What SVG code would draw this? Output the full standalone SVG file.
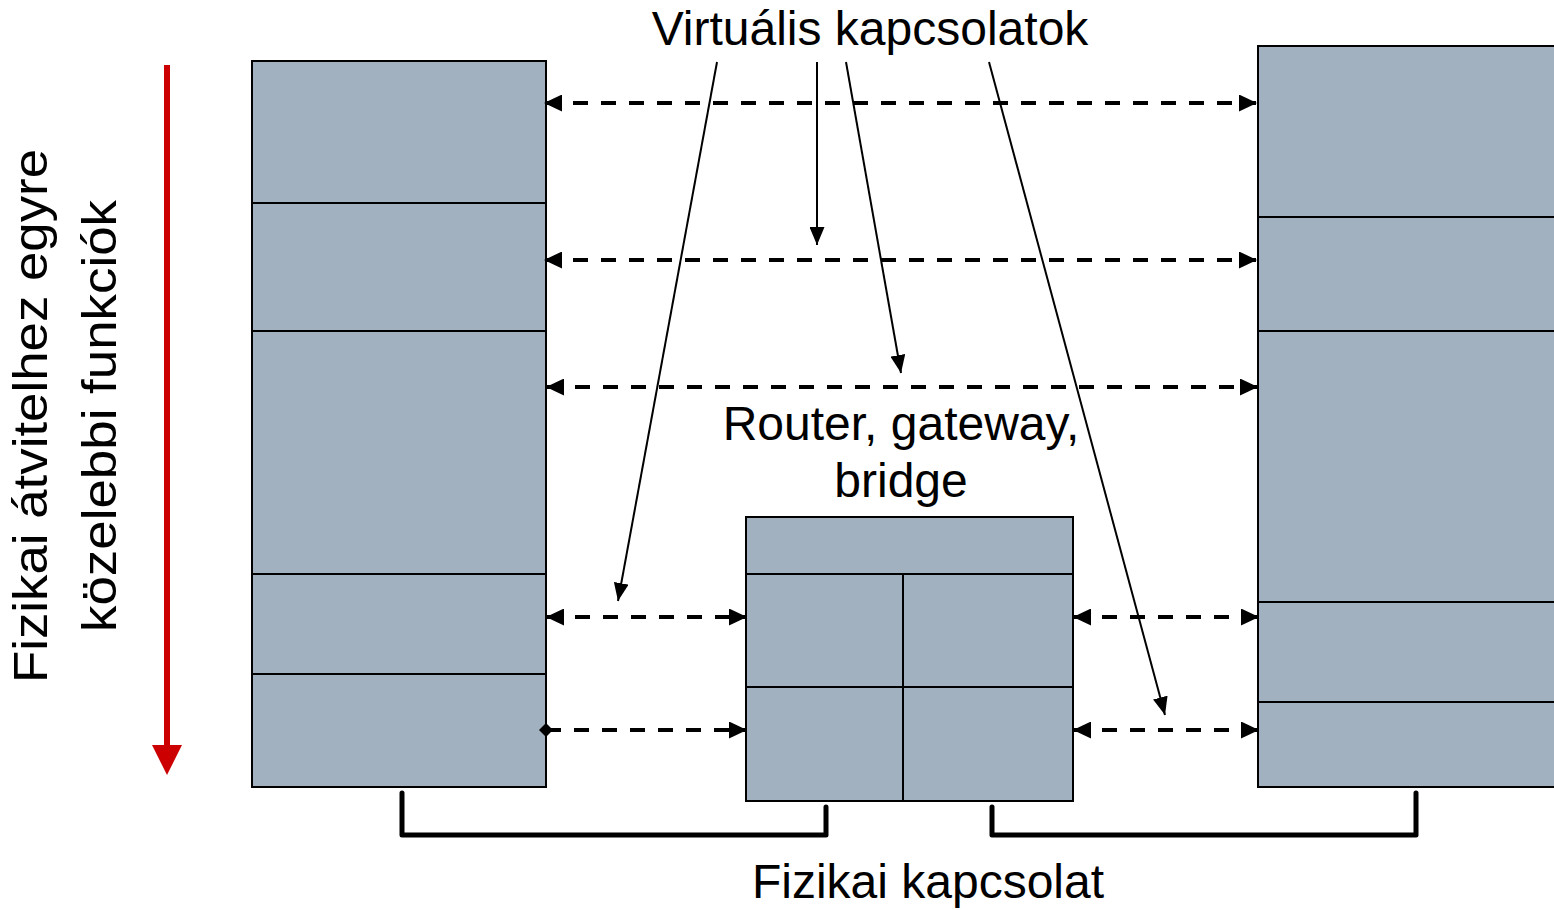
<svg xmlns="http://www.w3.org/2000/svg" width="1554" height="910" viewBox="0 0 1554 910">
  <style>
    .layer { fill: #A2B1C0; stroke: #000; stroke-width: 2; }
    .div { stroke: #000; stroke-width: 2; fill: none; }
    .virt { stroke: #000; stroke-width: 4; stroke-dasharray: 15 13; fill: none; }
    .ptr { stroke: #000; stroke-width: 2; fill: none; }
    .phys { stroke: #000; stroke-width: 5; fill: none; stroke-linejoin: round; stroke-linecap: round; }
    .lbl { font-family: "Liberation Sans", Arial, sans-serif; font-size: 48px; fill: #000; text-anchor: middle; }
  </style>
  <defs>
    <marker id="head" viewBox="0 0 18 17" refX="17" refY="8.5" markerWidth="18" markerHeight="17" markerUnits="userSpaceOnUse" orient="auto-start-reverse">
      <path d="M0,0 L18,8.5 L0,17 z" fill="#000"/>
    </marker>
    <marker id="thinHead" viewBox="0 0 18 15" refX="18" refY="7.5" markerWidth="18" markerHeight="15" markerUnits="userSpaceOnUse" orient="auto">
      <path d="M0,0 L18,7.5 L0,15 z" fill="#000"/>
    </marker>
    <marker id="dot" viewBox="0 0 14 14" refX="7" refY="7" markerWidth="14" markerHeight="14" markerUnits="userSpaceOnUse" orient="auto">
      <path d="M0,7 L7,0 L14,7 L7,14 z" fill="#000"/>
    </marker>
  </defs>

  <rect width="1554" height="910" fill="#fff"/>

  <!-- host A protocol stack -->
  <g id="stack-left">
    <rect class="layer" x="252" y="61" width="294" height="726"/>
    <line class="div" x1="252" y1="203" x2="546" y2="203"/>
    <line class="div" x1="252" y1="331" x2="546" y2="331"/>
    <line class="div" x1="252" y1="574" x2="546" y2="574"/>
    <line class="div" x1="252" y1="674" x2="546" y2="674"/>
  </g>

  <!-- host B protocol stack -->
  <g id="stack-right">
    <rect class="layer" x="1258" y="46" width="310" height="741"/>
    <line class="div" x1="1258" y1="217" x2="1568" y2="217"/>
    <line class="div" x1="1258" y1="331" x2="1568" y2="331"/>
    <line class="div" x1="1258" y1="602" x2="1568" y2="602"/>
    <line class="div" x1="1258" y1="702" x2="1568" y2="702"/>
  </g>

  <!-- intermediate device -->
  <g id="router">
    <rect class="layer" x="746" y="517" width="327" height="284"/>
    <line class="div" x1="746" y1="574" x2="1073" y2="574"/>
    <line class="div" x1="746" y1="687" x2="1073" y2="687"/>
    <line class="div" x1="903" y1="574" x2="903" y2="801"/>
    <text class="lbl" x="901" y="440">Router, gateway,</text>
    <text class="lbl" x="901" y="497">bridge</text>
  </g>

  <!-- direction indicator -->
  <g id="direction">
    <line x1="167" y1="65" x2="167" y2="747" stroke="#CC0000" stroke-width="6"/>
    <polygon points="152,745 182,745 167,775" fill="#CC0000"/>
    <text class="lbl" transform="translate(47,416) rotate(-90)" textLength="534" lengthAdjust="spacingAndGlyphs">Fizikai átvitelhez egyre</text>
    <text class="lbl" transform="translate(116,416) rotate(-90)" textLength="432" lengthAdjust="spacingAndGlyphs">közelebbi funkciók</text>
  </g>

  <g id="labels">
    <text class="lbl" x="870" y="45">Virtuális kapcsolatok</text>
    <text class="lbl" x="928" y="898">Fizikai kapcsolat</text>
  </g>

  <g id="connectors">
    <!-- peer-to-peer virtual links -->
    <line class="virt" x1="545" y1="103" x2="1256" y2="103" marker-start="url(#head)" marker-end="url(#head)"/>
    <line class="virt" x1="545" y1="260" x2="1256" y2="260" marker-start="url(#head)" marker-end="url(#head)"/>
    <line class="virt" x1="547" y1="387" x2="1257" y2="387" marker-start="url(#head)" marker-end="url(#head)"/>
    <line class="virt" x1="547" y1="617" x2="746" y2="617" marker-start="url(#head)" marker-end="url(#head)"/>
    <line class="virt" x1="1074" y1="617" x2="1258" y2="617" marker-start="url(#head)" marker-end="url(#head)"/>
    <line class="virt" x1="546" y1="730" x2="746" y2="730" marker-start="url(#dot)" marker-end="url(#head)"/>
    <line class="virt" x1="1074" y1="730" x2="1258" y2="730" marker-start="url(#head)" marker-end="url(#head)"/>

    <!-- label pointers -->
    <line class="ptr" x1="717" y1="62" x2="618" y2="601" marker-end="url(#thinHead)"/>
    <line class="ptr" x1="817" y1="62" x2="817" y2="245" marker-end="url(#thinHead)"/>
    <line class="ptr" x1="846" y1="62" x2="901" y2="373" marker-end="url(#thinHead)"/>
    <line class="ptr" x1="989" y1="62" x2="1165" y2="715" marker-end="url(#thinHead)"/>

    <!-- physical links -->
    <polyline class="phys" points="402,793 402,835 826,835 826,807"/>
    <polyline class="phys" points="992,807 992,835 1416,835 1416,793"/>
  </g>
</svg>
